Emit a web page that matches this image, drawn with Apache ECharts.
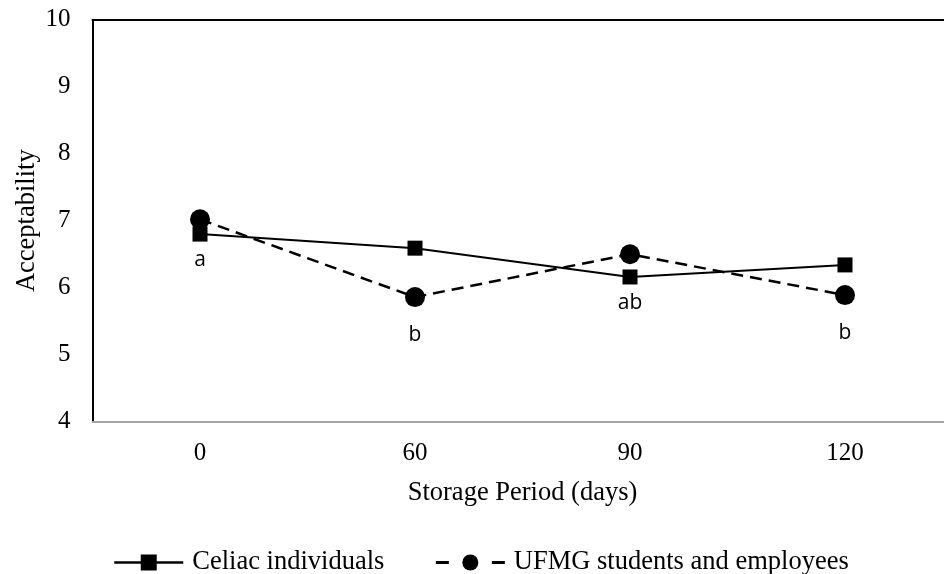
<!DOCTYPE html>
<html>
<head>
<meta charset="utf-8">
<script src="https://cdn.jsdelivr.net/npm/echarts@6/dist/echarts.min.js"></script>
<style>html,body{margin:0;padding:0;background:#fff;}#c{width:944px;height:574px;}</style>
</head>
<body>
<div id="c"></div>
<script>
var categories = ['0', '60', '90', '120'];
var celiac = [6.80, 6.59, 6.16, 6.34];
var ufmg = [7.02, 5.86, 6.50, 5.89];
var celiacLetters = ['a', '', 'ab', ''];
var ufmgLetters = ['', 'b', '', 'b'];
var yTicks = [4, 5, 6, 7, 8, 9, 10];

var serif = 'Liberation Serif';
var chart = echarts.init(document.getElementById('c'), null, {renderer: 'canvas'});

function withLetters(vals, letters) {
  return vals.map(function (v, i) { return {value: v, letter: letters[i]}; });
}

var letterLabel = function (dist) {
  return {
    show: true, position: 'bottom', distance: dist,
    fontFamily: 'Open Sans', fontSize: 21, color: '#000',
    formatter: function (p) { return p.data.letter; }
  };
};

chart.setOption({
  animation: false,
  backgroundColor: '#fff',
  grid: {left: 92.5, top: 19.7, right: -8.5, bottom: 152.3, containLabel: false, outerBoundsMode: 'none'},
  legend: {
    bottom: -7, left: 108,
    itemWidth: 69, itemHeight: 20, itemGap: 50,
    textStyle: {fontFamily: serif, fontSize: 26.5, color: '#000', padding: [0, 0, 0, 4]},
    data: [
      {name: 'Celiac individuals', lineStyle: {width: 2.5}},
      {name: 'UFMG students and employees', lineStyle: {type: [13, 43], width: 3}}
    ]
  },
  xAxis: [{
    type: 'category', data: categories, boundaryGap: true,
    axisLine: {lineStyle: {color: '#a6a6a6', width: 2}},
    axisTick: {show: false},
    axisLabel: {fontFamily: serif, fontSize: 25, color: '#000', margin: 19},
    name: 'Storage Period (days)', nameLocation: 'middle', nameGap: 58, nameMoveOverlap: false,
    nameTextStyle: {fontFamily: serif, fontSize: 26.5, color: '#000'}
  }, {
    type: 'category', data: categories, position: 'top',
    axisLine: {lineStyle: {color: '#000', width: 2}},
    axisTick: {show: false}, axisLabel: {show: false}
  }],
  yAxis: {
    type: 'value', min: yTicks[0], max: yTicks[yTicks.length - 1], interval: 1,
    axisLine: {show: true, lineStyle: {color: '#000', width: 2}},
    axisTick: {show: false},
    splitLine: {show: false},
    axisLabel: {fontFamily: serif, fontSize: 25, color: '#000', margin: 22},
    name: 'Acceptability', nameLocation: 'middle', nameGap: 52, nameRotate: 90, nameMoveOverlap: false,
    nameTextStyle: {fontFamily: serif, fontSize: 26.5, color: '#000'}
  },
  series: [{
    name: 'Celiac individuals', type: 'line',
    data: withLetters(celiac, celiacLetters),
    symbol: 'rect', symbolSize: 15,
    itemStyle: {color: '#000'},
    lineStyle: {color: '#000', width: 2, type: 'solid'},
    label: letterLabel(8),
    z: 3
  }, {
    name: 'UFMG students and employees', type: 'line',
    data: withLetters(ufmg, ufmgLetters),
    symbol: 'circle', symbolSize: 20,
    itemStyle: {color: '#000'},
    lineStyle: {color: '#000', width: 2.5, type: [12, 7]},
    label: letterLabel(17),
    z: 2
  }]
});
</script>
</body>
</html>
